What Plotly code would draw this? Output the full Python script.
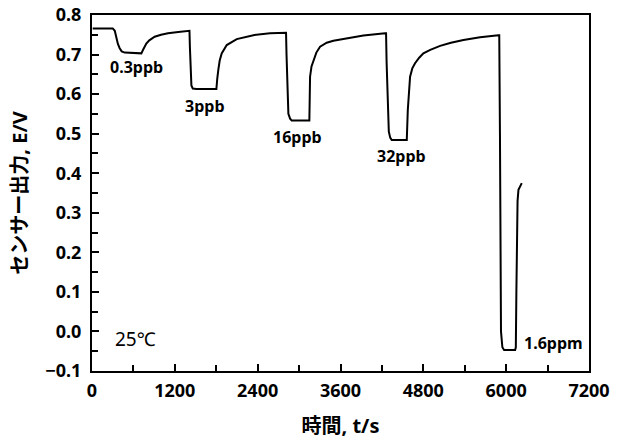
import plotly.graph_objects as go

# time (s) and sensor output (V)
time_s = [10, 300, 330, 352, 375, 401, 430, 473, 715, 740, 760, 787, 830, 870, 908, 1000,
          1101, 1250, 1391, 1412, 1418, 1428, 1440, 1460, 1512, 1802,
          1808, 1815, 1830, 1850, 1879, 1952, 2097, 2338, 2579, 2797,
          2811, 2818, 2832, 2845, 2870, 2893, 3149,
          3154, 3159, 3180, 3207, 3250, 3304, 3400, 3497, 3690, 3932, 4246,
          4260, 4268, 4285, 4300, 4320, 4342, 4560,
          4568, 4575, 4608, 4640, 4680, 4740, 4801, 4900, 5043, 5200, 5381, 5622, 5888,
          5900, 5910, 5925, 5945, 5970, 6130,
          6140, 6148, 6155, 6165, 6178, 6200, 6226]
output_v = [0.766, 0.766, 0.760, 0.741, 0.727, 0.716, 0.708, 0.705, 0.703, 0.712, 0.720, 0.728, 0.736, 0.741, 0.745, 0.750,
            0.754, 0.757, 0.760, 0.760, 0.720, 0.650, 0.622, 0.614, 0.613, 0.613,
            0.620, 0.640, 0.661, 0.685, 0.703, 0.724, 0.739, 0.749, 0.754, 0.755,
            0.755, 0.700, 0.580, 0.550, 0.538, 0.533, 0.533,
            0.590, 0.644, 0.670, 0.686, 0.705, 0.720, 0.730, 0.735, 0.741, 0.748, 0.754,
            0.754, 0.680, 0.540, 0.505, 0.490, 0.484, 0.484,
            0.520, 0.560, 0.644, 0.665, 0.678, 0.692, 0.703, 0.712, 0.722, 0.730, 0.737, 0.744, 0.749,
            0.749, 0.500, 0.000, -0.040, -0.047, -0.047,
            -0.040, 0.100, 0.265, 0.330, 0.358, 0.368, 0.375]

conc_labels = ["0.3ppb", "3ppb", "16ppb", "32ppb", "1.6ppm"]
conc_t = [638, 1637, 2970, 4477, 6230]
conc_v = [0.668, 0.570, 0.492, 0.444, -0.030]
temp_label = "25℃"
temp_t = 310
temp_v = -0.020

x_ticks = [0, 1200, 2400, 3600, 4800, 6000, 7200]

fig = go.Figure()
fig.add_trace(go.Scatter(x=time_s, y=output_v, mode="lines",
                         line=dict(color="black", width=2), showlegend=False))

for i, (txt, tx, ty) in enumerate(zip(conc_labels, conc_t, conc_v)):
    fig.add_annotation(x=tx, y=ty, text=txt, showarrow=False,
                       xanchor="left" if i == len(conc_labels) - 1 else "center", yanchor="middle",
                       font=dict(family="Noto Sans, Noto Sans CJK JP", size=16, color="black", weight="bold"))
fig.add_annotation(x=temp_t, y=temp_v, text=temp_label, showarrow=False, xanchor="left", yanchor="middle",
                   font=dict(family="Noto Sans, Noto Sans CJK JP", size=19, color="black"))

tick_font = dict(family="Noto Sans", size=18, color="black", weight="bold")
title_font = dict(family="Noto Sans, Noto Sans CJK JP", size=20, color="black", weight="bold")

fig.update_layout(
    width=618, height=443,
    margin=dict(l=92, r=29, t=15, b=72),
    plot_bgcolor="white", paper_bgcolor="white",
    xaxis=dict(range=[0, 7200], tickvals=x_ticks, ticks="inside", ticklen=7, tickwidth=2,
               tickcolor="black", showline=True, linecolor="black", linewidth=2, mirror=True,
               showgrid=False, zeroline=False, tickfont=tick_font, automargin=False,
               ticklabelstandoff=2,
               minor=dict(dtick=600, ticks="inside", ticklen=6, tickwidth=2, tickcolor="black"),
               title=dict(text="時間, t/s", font=title_font, standoff=18)),
    yaxis=dict(range=[-0.1, 0.8], dtick=0.1, tick0=0, tickformat=".1f", ticks="inside", ticklen=7,
               tickwidth=2, tickcolor="black", showline=True, linecolor="black", linewidth=2,
               mirror=True, showgrid=False, zeroline=False, tickfont=tick_font, automargin=False,
               ticklabelstandoff=5,
               minor=dict(dtick=0.05, ticks="inside", ticklen=6, tickwidth=2, tickcolor="black"),
               title=dict(text="センサー出力, E/V", font=title_font, standoff=12)),
)

fig.write_html("out.html", config={"displayModeBar": False},
               post_script="document.body.style.margin='0';document.body.style.overflow='hidden';")
